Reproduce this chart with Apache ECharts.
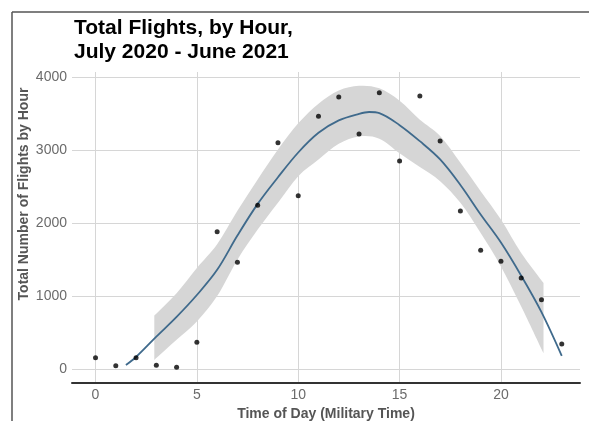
<!DOCTYPE html>
<html><head><meta charset="utf-8">
<script src="https://cdn.jsdelivr.net/npm/echarts@6/dist/echarts.min.js"></script>
<style>html,body{margin:0;padding:0;background:#fff}#c{width:589px;height:421px}</style>
</head><body><div id="c"></div>
<script>
// Observed totals per hour
const hours = [0,1,2,3,4,5,6,7,8,9,10,11,12,13,14,15,16,17,18,19,20,21,22,23];
const flights = [155,45,155,50,23,366,1883,1463,2245,3104,2377,3466,3731,3224,3790,2853,3745,3128,2167,1628,1477,1248,951,343];
// Smoothed fit line
const fitX = [1.5,2,3,4,5,6,7,8,9,10,11,12,13,13.5,14,15,16,17,18,19,20,21,22,23];
const fitY = [55,165,444,715,1015,1360,1830,2265,2630,2970,3240,3410,3500,3525,3510,3345,3125,2875,2525,2120,1735,1280,780,180];
// Confidence band
const bandX = [2.9,4,5,6,7,8,9,10,11,12,13,14,15,16,17,18,19,20,21,22.1];
const bandLower = [124,400,651,1000,1500,1912,2280,2645,2875,3090,3190,3160,2960,2770,2577,2279,1866,1407,857,216];
const bandUpper = [733,1040,1385,1710,2170,2600,3012,3370,3640,3820,3885,3850,3680,3420,3196,2829,2439,2050,1591,1179];
// Tick labels
const xTicks = [0,5,10,15,20];
const yTicks = [0,1000,2000,3000,4000];

const FONT = 'Liberation Sans, Arial, sans-serif';

// Catmull-Rom curve through projected points (rendering only)
function curve(pts, start) {
  let d = start ? 'M' + pts[0][0] + ',' + pts[0][1] : 'L' + pts[0][0] + ',' + pts[0][1];
  for (let i = 0; i < pts.length - 1; i++) {
    const p0 = pts[Math.max(i - 1, 0)], p1 = pts[i], p2 = pts[i + 1], p3 = pts[Math.min(i + 2, pts.length - 1)];
    const c1 = [p1[0] + (p2[0] - p0[0]) / 6, p1[1] + (p2[1] - p0[1]) / 6];
    const c2 = [p2[0] - (p3[0] - p1[0]) / 6, p2[1] - (p3[1] - p1[1]) / 6];
    d += ' C' + c1[0] + ',' + c1[1] + ' ' + c2[0] + ',' + c2[1] + ' ' + p2[0] + ',' + p2[1];
  }
  return d;
}

const chart = echarts.init(document.getElementById('c'), null, {renderer: 'canvas'});
chart.setOption({
  animation: false,
  backgroundColor: '#fff',
  title: {
    text: 'Total Flights, by Hour,\nJuly 2020 - June 2021',
    left: 69, top: 11,
    textStyle: {fontSize: 21, fontWeight: 'bold', color: '#000', lineHeight: 24, fontFamily: FONT}
  },
  grid: {left: 72, right: 9, top: 72, bottom: 38, containLabel: false, outerBoundsMode: 'none'},
  xAxis: {
    type: 'value', min: -1.16, max: 23.9,
    axisLine: {show: true, onZero: false, lineStyle: {color: '#333', width: 2}},
    axisTick: {show: false, customValues: xTicks},
    axisLabel: {customValues: xTicks, color: '#6b6b6b', fontSize: 14, margin: 5, fontFamily: FONT},
    splitLine: {show: true, lineStyle: {color: '#d6d6d6', width: 1}},
    name: 'Time of Day (Military Time)', nameLocation: 'middle', nameGap: 20,
    nameTextStyle: {fontSize: 14, fontWeight: 'bold', color: '#555', fontFamily: FONT}
  },
  yAxis: {
    type: 'value', min: -192, max: 4074,
    axisLine: {show: false},
    axisTick: {show: false, customValues: yTicks},
    axisLabel: {customValues: yTicks, color: '#6b6b6b', fontSize: 14, margin: 5, fontFamily: FONT,
                formatter: v => String(v)},
    splitLine: {show: true, lineStyle: {color: '#d6d6d6', width: 1}}
  },
  graphic: [
    {type: 'line', shape: {x1: 12, y1: 12, x2: 12, y2: 421}, style: {stroke: '#555', lineWidth: 1.5}},
    {type: 'line', shape: {x1: 12, y1: 12, x2: 589, y2: 12}, style: {stroke: '#555', lineWidth: 1.5}},
    {type: 'text', x: 24, y: 194, rotation: Math.PI / 2,
     style: {text: 'Total Number of Flights by Hour', fontSize: 14, fontWeight: 'bold', fill: '#555',
             fontFamily: FONT, align: 'center', verticalAlign: 'middle'}}
  ],
  series: [
    {
      type: 'custom',
      data: [[bandX[0], bandLower[0]]],
      z: 1,
      silent: true,
      renderItem: function (params, api) {
        const top = bandX.map((x, i) => api.coord([x, bandUpper[i]]));
        const bot = bandX.map((x, i) => api.coord([x, bandLower[i]])).reverse();
        const d = curve(top, true) + ' ' + curve(bot, false) + ' Z';
        return {type: 'path', shape: {pathData: d}, style: {fill: '#d6d6d6'}};
      }
    },
    {
      type: 'line', z: 3, smooth: 0.35, symbol: 'none',
      data: fitX.map((x, i) => [x, fitY[i]]),
      lineStyle: {color: '#3f6a8c', width: 1.8}
    },
    {
      type: 'scatter', z: 5, symbolSize: 5,
      data: hours.map((h, i) => [h, flights[i]]),
      itemStyle: {color: '#000'}
    }
  ]
});
</script></body></html>
